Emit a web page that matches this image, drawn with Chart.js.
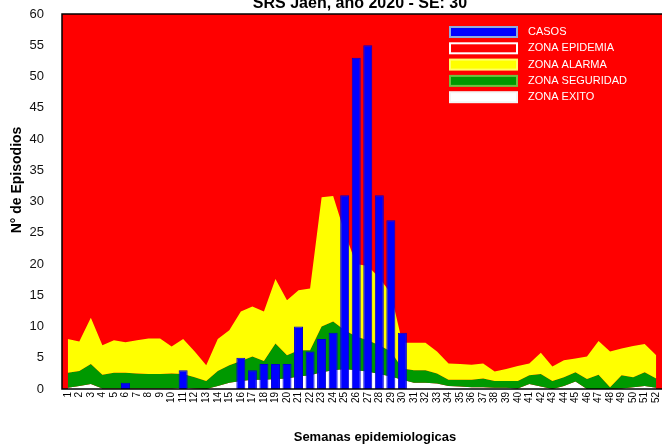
<!DOCTYPE html>
<html>
<head>
<meta charset="utf-8">
<script src="https://cdn.jsdelivr.net/npm/chart.js@4"></script>
<style>
  html, body { margin: 0; padding: 0; background: #fff; }
  #wrap { width: 664px; height: 448px; }
</style>
</head>
<body>
<div id="wrap"><canvas id="epiChart"></canvas></div>
<script>
// Semanas epidemiologicas
const weeks = ['1','2','3','4','5','6','7','8','9','10','11','12','13','14','15','16','17','18','19','20',
    '21','22','23','24','25','26','27','28','29','30','31','32','33','34','35','36','37','38','39','40',
    '41','42','43','44','45','46','47','48','49','50','51','52'];

// Casos semanales (hasta SE 30)
const casos = [0,0,0,0,0,1,0,0,0,0,3,0,0,0,0,5,3,4,4,4,10,6,8,9,31,53,55,31,27,9];

// Limite superior de cada zona
const zonaAlarma = [8.0,7.6,11.4,7.0,7.8,7.5,7.8,8.1,8.1,6.8,8.0,6.0,3.8,8.0,9.4,12.4,13.2,12.4,17.6,14.2,
    15.8,16.1,30.7,30.9,25,20,19.7,17.8,15.3,7.4,7.4,7.4,6.0,4.1,4.0,3.9,4.1,2.8,3.2,3.7,
    4.1,5.8,3.6,4.6,4.9,5.2,7.7,6.0,6.5,6.9,7.2,5.4];
const zonaSeguridad = [2.6,2.9,4.0,2.3,2.6,2.6,2.5,2.4,2.4,2.5,2.4,1.9,1.3,2.9,3.8,4.5,5.2,4.5,7.3,5.4,
    6.2,6.2,10.0,10.8,9.4,8.4,7.8,7.0,6.0,3.3,3.0,3.0,2.5,1.5,1.5,1.5,1.7,1.3,1.3,1.3,
    2.2,2.4,1.3,1.9,2.7,1.6,2.3,0.3,2.2,1.9,2.7,1.7];
const zonaExito = [0.2,0.5,0.8,0.1,0.1,0.1,0.1,0.1,0.1,0.1,0.2,0.1,0,0.5,1.0,1.3,1.5,1.5,1.6,1.7,
    2.0,2.2,2.7,3.0,3.2,3.0,2.8,2.4,2.0,1.5,1.0,1.0,0.9,0.5,0.4,0.3,0.3,0.2,0.2,0.1,
    0.8,0.4,0,0.5,1.2,0,0,0,0.1,0.3,0.5,0.2];

const yTicks = [0,5,10,15,20,25,30,35,40,45,50,55,60];

const FONT = '"Liberation Sans", Arial, sans-serif';

// red background = zona epidemia, plus the plot frame
const plotBackground = {
    id: 'plotBackground',
    beforeDraw(chart) {
        const { ctx, chartArea: a } = chart;
        ctx.save();
        ctx.fillStyle = '#ff0000';
        ctx.fillRect(a.left, a.top, a.right - a.left, a.bottom - a.top);
        ctx.restore();
    },
    afterDatasetsDraw(chart) {
        const { ctx, chartArea: a } = chart;
        ctx.save();
        ctx.strokeStyle = '#000';
        ctx.lineWidth = 1.5;
        ctx.beginPath();
        ctx.moveTo(a.right, a.top);
        ctx.lineTo(a.left, a.top);
        ctx.lineTo(a.left, a.bottom);
        ctx.lineTo(a.right, a.bottom);
        ctx.stroke();
        ctx.restore();
    }
};

// legend inside the plot + titles
const extras = {
    id: 'extras',
    afterDraw(chart) {
        const { ctx, chartArea: a } = chart;
        ctx.save();
        // legend
        const boxX = a.left + 388, boxW = 67, boxH = 10;
        let y = a.top + 18;
        ctx.font = '11px ' + FONT;
        ctx.textBaseline = 'middle';
        chart.data.datasets.forEach(ds => {
            ctx.fillStyle = ds.legendFill;
            ctx.fillRect(boxX, y - boxH / 2, boxW, boxH);
            ctx.strokeStyle = ds.legendBorder;
            ctx.lineWidth = 2;
            ctx.strokeRect(boxX, y - boxH / 2, boxW, boxH);
            ctx.fillStyle = '#fff';
            ctx.textAlign = 'left';
            ctx.fillText(ds.label, boxX + boxW + 11, y);
            y += 16.3;
        });
        // titles
        ctx.fillStyle = '#000';
        ctx.textAlign = 'center';
        ctx.textBaseline = 'alphabetic';
        ctx.font = 'bold 16px ' + FONT;
        ctx.fillText('SRS Jaén, año 2020 - SE: 30', 360, 8);
        ctx.font = 'bold 13px ' + FONT;
        ctx.fillText('Semanas epidemiologicas', 375, 441);
        ctx.font = 'bold 14px ' + FONT;
        ctx.translate(21, 180);
        ctx.rotate(-Math.PI / 2);
        ctx.fillText('N° de Episodios', 0, 0);
        ctx.restore();
    }
};

const ctx = document.getElementById('epiChart').getContext('2d');
new Chart(ctx, {
    type: 'bar',
    data: {
        labels: weeks,
        datasets: [
            {
                label: 'CASOS',
                data: casos,
                backgroundColor: '#0000ff',
                borderColor: '#0000d0',
                borderWidth: 1,
                categoryPercentage: 1,
                barPercentage: 0.78,
                legendFill: '#0000ff',
                legendBorder: '#8eaadb'
            },
            {
                type: 'line',
                label: 'ZONA EPIDEMIA',
                data: [],
                legendFill: '#ff0000',
                legendBorder: '#ffffff'
            },
            {
                type: 'line',
                label: 'ZONA ALARMA',
                data: zonaAlarma,
                backgroundColor: '#ffff00',
                borderWidth: 0,
                pointRadius: 0,
                tension: 0,
                fill: { target: 3 },
                legendFill: '#ffff00',
                legendBorder: '#ffff66'
            },
            {
                type: 'line',
                label: 'ZONA SEGURIDAD',
                data: zonaSeguridad,
                backgroundColor: '#009900',
                borderWidth: 0,
                pointRadius: 0,
                tension: 0,
                fill: { target: 4 },
                legendFill: '#009900',
                legendBorder: '#70c040'
            },
            {
                type: 'line',
                label: 'ZONA EXITO',
                data: zonaExito,
                backgroundColor: '#ffffff',
                borderWidth: 0,
                pointRadius: 0,
                tension: 0,
                fill: 'origin',
                legendFill: '#ffffff',
                legendBorder: '#f4f4f4'
            }
        ]
    },
    options: {
        responsive: true,
        maintainAspectRatio: false,
        animation: false,
        layout: { padding: { top: 14, right: 2, left: 0, bottom: 0 } },
        plugins: {
            legend: { display: false },
            title: { display: false },
            tooltip: { enabled: false }
        },
        scales: {
            x: {
                grid: { display: false, drawTicks: false },
                border: { display: false },
                ticks: {
                    autoSkip: false,
                    maxRotation: 90,
                    minRotation: 90,
                    padding: 3,
                    color: '#000',
                    font: { family: FONT, size: 10 }
                },
                afterFit(scale) {
                    scale.height = 59;
                    scale.paddingLeft = 0;
                    scale.paddingRight = 0;
                }
            },
            y: {
                min: 0,
                max: 60,
                afterBuildTicks(scale) { scale.ticks = yTicks.map(v => ({ value: v })); },
                grid: { display: false, drawTicks: false },
                border: { display: false },
                ticks: {
                    padding: 18,
                    color: '#111',
                    font: { family: FONT, size: 13 }
                },
                afterFit(scale) {
                    scale.width = 62;
                    scale.paddingTop = 0;
                    scale.paddingBottom = 0;
                }
            }
        }
    },
    plugins: [plotBackground, extras]
});
</script>
</body>
</html>
